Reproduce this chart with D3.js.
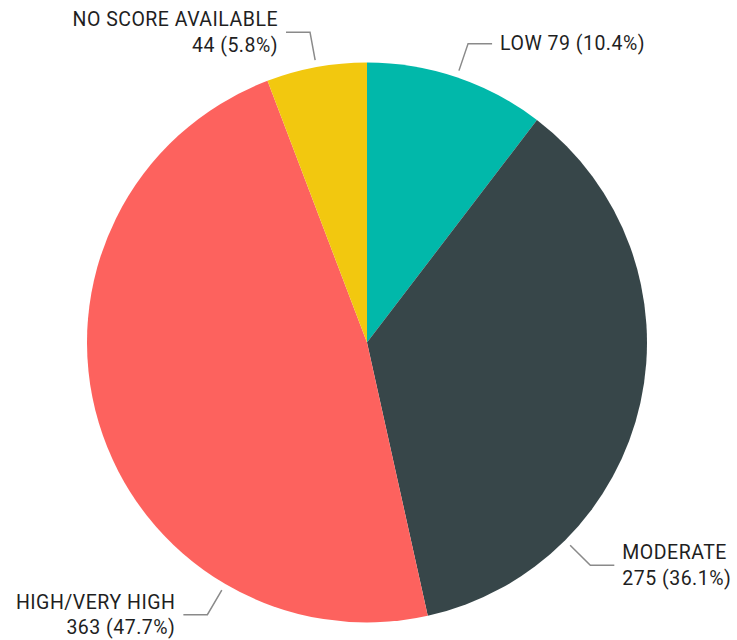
<!DOCTYPE html>
<html>
<head>
<meta charset="utf-8">
<script src="https://cdn.jsdelivr.net/npm/d3@7"></script>
<style>
  body { margin: 0; background: #fff; }
  svg text { font-family: Roboto, "DejaVu Sans Condensed", sans-serif; font-size: 19.5px; letter-spacing: 0.5px; fill: #1f1f1f; }
</style>
</head>
<body>
<div id="chart"></div>
<script>
// slice data, clockwise from the top
const categories = ["LOW", "MODERATE", "HIGH/VERY HIGH", "NO SCORE AVAILABLE"];
const counts = [79, 275, 363, 44];
const colors = ["#01B8AA", "#374649", "#FD625E", "#F2C80F"];
// where along each slice the leader line leaves (0 = start, 1 = end)
const labelAt = [0.5, 0.75, 0.25, 0.5];

const width = 737, height = 640;
const cx = 367, cy = 342.5, radius = 280;
const lineIn = 287, lineOut = 315.5, lineRun = 24, gap = 8, lineH = 25.7;

let svg = d3.select("#chart")
    .append("svg")
    .attr("width", width)
    .attr("height", height)
    .append("g")
    .attr("transform", `translate(${cx}, ${cy})`);

let total = d3.sum(counts);
let data = categories.map(function(c, i) {
    return {name: c, count: counts[i], color: colors[i], at: labelAt[i]};
});

let pie = d3.pie().sort(null).value(function(d) { return d.count });
let arc = d3.arc().innerRadius(0).outerRadius(radius);
let arcs = pie(data);

svg.selectAll("path.slice")
    .data(arcs)
    .enter()
    .append("path")
    .attr("class", "slice")
    .attr("fill", function(d) { return d.data.color })
    .attr("d", arc);

function pt(a, r) { return [Math.sin(a) * r, -Math.cos(a) * r]; }

arcs.forEach(function(d) {
    let a = d.startAngle + (d.endAngle - d.startAngle) * d.data.at;
    let right = Math.sin(a) > 0;
    let p0 = pt(a, lineIn), p1 = pt(a, lineOut);
    let p2 = [p1[0] + (right ? lineRun : -lineRun), p1[1]];

    svg.append("polyline")
        .attr("points", [p0, p1, p2].map(function(p) { return p.join(",") }).join(" "))
        .attr("fill", "none")
        .attr("stroke", "#8a8a8a")
        .attr("stroke-width", 1.5);

    let pct = "(" + d3.format(".1f")(d.data.count / total * 100) + "%)";
    let lines = d.data.name === "LOW"
        ? [d.data.name + " " + d.data.count + " " + pct]
        : [d.data.name, d.data.count + " " + pct];

    let t = svg.append("text")
        .attr("x", p2[0] + (right ? gap : -gap))
        .style("text-anchor", right ? "start" : "end");
    let firstBase = p2[1] + 6.8 - (lines.length - 1) * lineH / 2;
    lines.forEach(function(l, i) {
        t.append("tspan")
            .attr("x", p2[0] + (right ? gap : -gap))
            .attr("y", firstBase + i * lineH)
            .text(l);
    });
});
</script>
</body>
</html>
